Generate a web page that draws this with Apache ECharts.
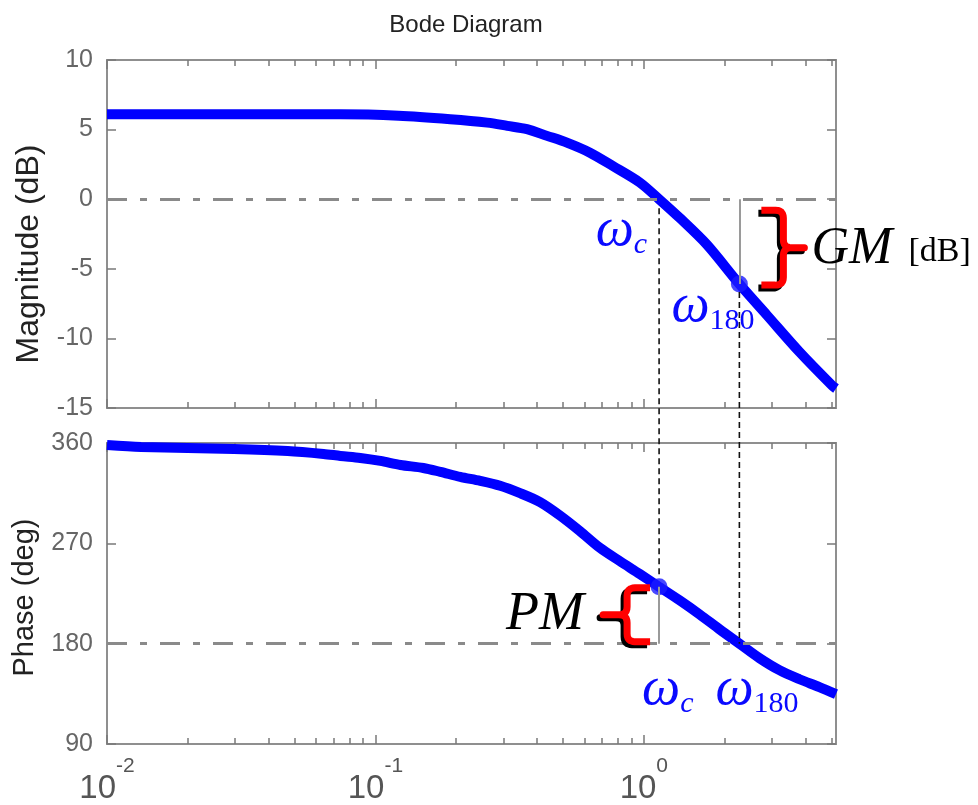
<!DOCTYPE html>
<html><head><meta charset="utf-8">
<script src="https://cdn.jsdelivr.net/npm/echarts@6/dist/echarts.min.js"></script>
<style>html,body{margin:0;padding:0;background:#fff}#c{width:978px;height:805px}</style>
</head><body><div id="c"></div>
<script>
// ---- data ----
const magFreq = [0.01, 0.03, 0.074, 0.122, 0.19, 0.261, 0.31, 0.367, 0.436, 0.517, 0.63, 0.767, 0.966, 1.14, 1.361, 1.715, 2.27, 2.866, 3.8, 5.04, 5.2];
const magDb   = [6.1, 6.1, 6.1, 6.0, 5.75, 5.5, 5.27, 5.03, 4.55, 4.06, 3.34, 2.38, 1.2, 0.0, -1.35, -3.25, -6.1, -8.3, -10.97, -13.4, -13.6];
const phaseFreq = [0.01, 0.0134, 0.0297, 0.0471, 0.0641, 0.0741, 0.0879, 0.1044, 0.124, 0.1508, 0.1745, 0.207, 0.2457, 0.2915, 0.346, 0.4106, 0.487, 0.578, 0.686, 0.814, 0.966, 1.14, 1.361, 1.615, 1.916, 2.27, 2.70, 3.20, 3.80, 4.51, 5.2];
const phaseDeg  = [358.2, 356.4, 354.6, 352.8, 350.2, 348.4, 346.6, 343.9, 340.3, 337.6, 334.1, 329.6, 326.0, 321.6, 315.0, 307.0, 295.0, 281.0, 266.0, 254.0, 242.5, 231.0, 218.8, 206.2, 192.8, 180.0, 166.9, 156.2, 148.1, 141.0, 134.7];
const xMajorTicks = [0.01, 0.1, 1];
const xMinorTicks = [0.02,0.03,0.04,0.05,0.06,0.07,0.08,0.09,0.2,0.3,0.4,0.5,0.6,0.7,0.8,0.9,2,3,4,5];
const magTicks = [-15, -10, -5, 0, 5, 10];
const phaseTicks = [90, 180, 270, 360];
const wc = 1.14, w180 = 2.27;
const magAtW180 = -6.1, phaseAtWc = 231;
const magRef = 0, phaseRef = 180;

const X_MIN = 0.01, X_MAX = 5.2;
const TICK = '#7a7a7a', BORDER = '#8f8f8f';
const SANS = '"Liberation Sans", Arial, sans-serif';
const SERIF = '"Liberation Serif", "Times New Roman", serif';

function xAxisSet(gridIndex, withLabels) {
  const base = {
    type: 'log', logBase: 10, min: X_MIN, max: X_MAX, gridIndex,
    axisLine: { show: false, onZero: false }, splitLine: { show: false }
  };
  const mk = (pos, vals, len, labels) => Object.assign({}, base, {
    position: pos,
    axisTick: { show: true, inside: true, length: len, customValues: vals, lineStyle: { color: TICK, width: 1.5 } },
    axisLabel: labels ? {
      show: true, customValues: xMajorTicks, margin: 12,
      formatter: v => '{b|10}{s|' + Math.round(Math.log10(v)) + '}',
      rich: {
        b: { fontSize: 33, fontFamily: SANS, color: '#555', lineHeight: 49, verticalAlign: 'bottom' },
        s: { fontSize: 21, fontFamily: SANS, color: '#555', lineHeight: 22, verticalAlign: 'top' }
      }
    } : { show: false }
  });
  return [
    mk('bottom', xMajorTicks, 9, withLabels),
    mk('bottom', xMinorTicks, 6, false),
    mk('top', xMajorTicks, 9, false),
    mk('top', xMinorTicks, 6, false)
  ];
}

function yAxisSet(gridIndex, ticks, name, nameGap, nameSize, namePad) {
  const base = {
    type: 'value', gridIndex, min: ticks[0], max: ticks[ticks.length - 1],
    interval: ticks[1] - ticks[0],
    axisLine: { show: false }, splitLine: { show: false },
    axisTick: { show: true, inside: true, length: 9, lineStyle: { color: TICK, width: 1.5 } }
  };
  return [
    Object.assign({}, base, {
      position: 'left', name, nameLocation: 'middle', nameGap, nameRotate: 90,
      nameTextStyle: { fontSize: nameSize, fontFamily: SANS, color: '#222', padding: namePad },
      axisLabel: { show: true, fontSize: 25, fontFamily: SANS, color: '#666', margin: 14 }
    }),
    Object.assign({}, base, { position: 'right', axisLabel: { show: false } })
  ];
}

const dashDot = { color: '#8a8a8a', width: 3, type: [20, 13, 7, 13] };
const marginLine = { color: '#9a9a9a', width: 2, type: 'solid' };

const option = {
  animation: false,
  backgroundColor: '#fff',
  title: {
    text: 'Bode Diagram', left: 461, top: 8, textAlign: 'center',
    textStyle: { fontSize: 24, fontWeight: 'normal', fontFamily: SANS, color: '#222' }
  },
  grid: [
    { left: 107, top: 60, width: 729, height: 348, show: true, borderColor: BORDER, borderWidth: 2 },
    { left: 107, top: 443, width: 729, height: 305, show: true, borderColor: BORDER, borderWidth: 2 }
  ],
  xAxis: [].concat(xAxisSet(0, false), xAxisSet(1, true)),
  yAxis: [].concat(
    yAxisSet(0, magTicks, 'Magnitude (dB)', 62, 32, [0, 40, 0, 0]),
    yAxisSet(1, phaseTicks, 'Phase (deg)', 68, 29, [0, 8, 0, 0])
  ),
  series: [
    {
      type: 'line', xAxisIndex: 0, yAxisIndex: 0, showSymbol: false, smooth: 0.3,
      lineStyle: { color: '#0000ff', width: 10 }, z: 3,
      data: magFreq.map((f, i) => [f, magDb[i]]),
      markLine: {
        silent: true, symbol: 'none', label: { show: false }, animation: false,
        data: [
          { yAxis: magRef, lineStyle: dashDot },
          [{ coord: [w180, magRef], lineStyle: marginLine }, { coord: [w180, magAtW180] }]
        ]
      }
    },
    {
      type: 'line', xAxisIndex: 4, yAxisIndex: 2, showSymbol: false, smooth: 0.3,
      lineStyle: { color: '#0000ff', width: 10 }, z: 3,
      data: phaseFreq.map((f, i) => [f, phaseDeg[i]]),
      markLine: {
        silent: true, symbol: 'none', label: { show: false }, animation: false,
        data: [
          { yAxis: phaseRef, lineStyle: dashDot },
          [{ coord: [wc, phaseRef], lineStyle: marginLine }, { coord: [wc, phaseAtWc] }]
        ]
      }
    },
    { type: 'scatter', xAxisIndex: 0, yAxisIndex: 0, symbolSize: 17, itemStyle: { color: '#1a1aff' }, z: 4, data: [[w180, magAtW180]] },
    { type: 'scatter', xAxisIndex: 4, yAxisIndex: 2, symbolSize: 17, itemStyle: { color: '#1a1aff' }, z: 4, data: [[wc, phaseAtWc]] }
  ]
};

const chart = echarts.init(document.getElementById('c'), null, { renderer: 'canvas' });
chart.setOption(option);

// ---- annotations positioned from data coordinates ----
const topPx = p => chart.convertToPixel({ xAxisIndex: 0, yAxisIndex: 0 }, p);
const botPx = p => chart.convertToPixel({ xAxisIndex: 4, yAxisIndex: 2 }, p);

const pWcTop = topPx([wc, magRef]);
const pW180Top = topPx([w180, magAtW180]);
const pW180Ref = topPx([w180, magRef]);
const pWcBot = botPx([wc, phaseAtWc]);
const pWcRef = botPx([wc, phaseRef]);
const pW180Bot = botPx([w180, phaseRef]);

const BLUE = '#0a0aff';
const omegaRich = {
  w: { fontSize: 54, fontFamily: SERIF, fontStyle: 'italic', fill: BLUE, lineHeight: 56, verticalAlign: 'top' },
  c: { fontSize: 30, fontFamily: SERIF, fontStyle: 'italic', fill: BLUE, lineHeight: 30, verticalAlign: 'bottom' },
  n: { fontSize: 30, fontFamily: SERIF, fill: BLUE, lineHeight: 30, verticalAlign: 'bottom' }
};
function label(text, x, y, align) {
  return { type: 'text', x, y, z: 100, style: { text, rich: omegaRich, align, verticalAlign: 'middle', fill: BLUE } };
}
// curly brace as a polyline: tips at xTip, stem at xv, spike to xSpike
function bracePoints(xTip, xv, xSpike, yt, yb) {
  const s = Math.sign(xv - xTip), r = 8, ym = (yt + yb) / 2;
  const pts = [];
  const quad = (p0, c, p1) => { for (let k = 0; k <= 6; k++) { const t = k / 6, u = 1 - t;
    pts.push([u * u * p0[0] + 2 * u * t * c[0] + t * t * p1[0], u * u * p0[1] + 2 * u * t * c[1] + t * t * p1[1]]); } };
  pts.push([xTip, yt]);
  quad([xv - s * r, yt], [xv, yt], [xv, yt + r]);
  quad([xv, ym - r], [xv, ym], [xv + s * r, ym]);
  pts.push([xSpike, ym]);
  quad([xv + s * r, ym], [xv, ym], [xv, ym + r]);
  quad([xv, yb - r], [xv, yb], [xv - s * r, yb]);
  pts.push([xTip, yb]);
  return pts;
}
function bracePair(pts) {
  return [
    { type: 'polyline', z: 98, x: -3, y: 3, shape: { points: pts }, style: { fill: null, stroke: '#000', lineWidth: 7, lineJoin: 'round' } },
    { type: 'polyline', z: 99, shape: { points: pts }, style: { fill: null, stroke: '#ff0000', lineWidth: 7, lineJoin: 'round' } }
  ];
}

const gmPts = bracePoints(pW180Ref[0] + 22, pW180Ref[0] + 44, pW180Ref[0] + 65, pW180Ref[1] + 11, pW180Top[1] + 1);
const pmPts = bracePoints(pWcRef[0] - 9, pWcRef[0] - 32, pWcRef[0] - 56, pWcBot[1] + 1, pWcRef[1] - 2);

const dash = { stroke: '#111', lineWidth: 1.6, lineDash: [6, 4] };
const graphic = [
  { type: 'line', z: 50, shape: { x1: pWcTop[0], y1: pWcTop[1] + 9, x2: pWcBot[0], y2: pWcBot[1] - 12 }, style: dash },
  { type: 'line', z: 50, shape: { x1: pW180Top[0], y1: pW180Top[1] + 8, x2: pW180Bot[0], y2: pW180Bot[1] }, style: dash },
  label('{w|ω}{c|c}', pWcTop[0] - 12, pWcTop[1] + 33, 'right'),
  label('{w|ω}{n|180}', pW180Top[0] - 68, pW180Top[1] + 24, 'left'),
  label('{w|ω}{c|c}', pWcRef[0] - 17, pWcRef[1] + 47, 'left'),
  label('{w|ω}{n|180}', pW180Bot[0] - 24, pW180Bot[1] + 47, 'left'),
  { type: 'text', z: 100, x: pW180Ref[0] + 72, y: pW180Ref[1] + 50, style: { text: 'GM', fill: '#000', font: `italic 52px ${SERIF}`, align: 'left', verticalAlign: 'middle' } },
  { type: 'text', z: 100, x: pW180Ref[0] + 169, y: pW180Ref[1] + 53, style: { text: '[dB]', fill: '#000', font: `34px ${SERIF}`, align: 'left', verticalAlign: 'middle' } },
  { type: 'text', z: 100, x: pWcRef[0] - 153, y: pWcRef[1] - 29, style: { text: 'PM', fill: '#000', font: `italic 54px ${SERIF}`, align: 'left', verticalAlign: 'middle' } }
].concat(bracePair(gmPts), bracePair(pmPts));

chart.setOption({ graphic });
</script>
</body></html>
